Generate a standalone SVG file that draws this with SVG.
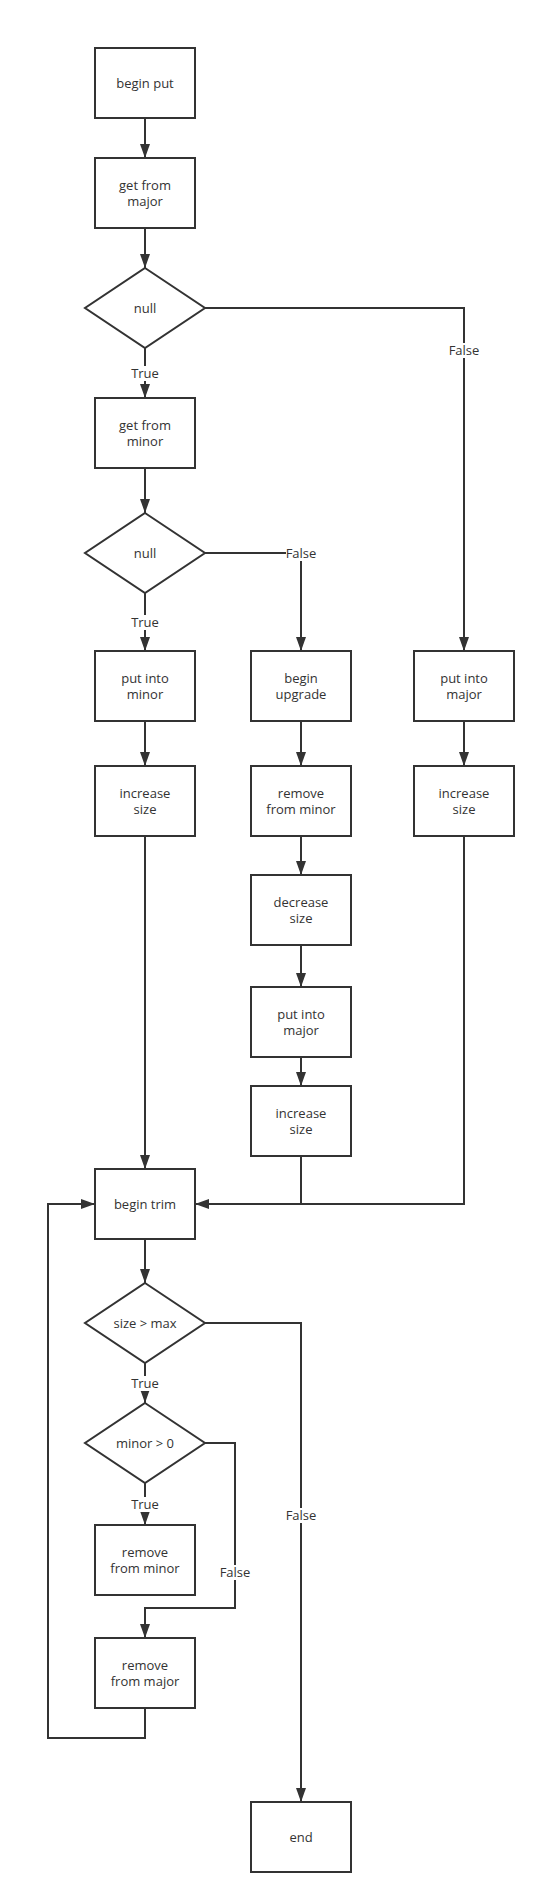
<svg xmlns="http://www.w3.org/2000/svg" width="546" height="1904" viewBox="0 0 546 1904">
<style>
.n{fill:#ffffff;stroke:#333333;stroke-width:2}
.t{font-family:"Open Sans","Noto Sans","Liberation Sans",sans-serif;font-size:13px;fill:#333333;text-anchor:middle}
.c{fill:none;stroke:#333333;stroke-width:2}
.lb{fill:#ffffff;stroke:none}
</style>
<defs>
<marker id="ah" markerUnits="userSpaceOnUse" markerWidth="14" markerHeight="10" refX="14" refY="5" orient="auto">
<path d="M0,0 L14,5 L0,10 z" fill="#333333"/>
</marker>
</defs>
<rect width="546" height="1904" fill="#ffffff"/>
<g id="connectors">
<path class="c" d="M145,118 V158" marker-end="url(#ah)"/>
<path class="c" d="M145,228 V268" marker-end="url(#ah)"/>
<path class="c" d="M145,348 V398" marker-end="url(#ah)"/>
<path class="c" d="M205,308 H464 V651" marker-end="url(#ah)"/>
<path class="c" d="M145,468 V513" marker-end="url(#ah)"/>
<path class="c" d="M145,593 V651" marker-end="url(#ah)"/>
<path class="c" d="M205,553 H301 V651" marker-end="url(#ah)"/>
<path class="c" d="M145,721 V766" marker-end="url(#ah)"/>
<path class="c" d="M301,721 V766" marker-end="url(#ah)"/>
<path class="c" d="M464,721 V766" marker-end="url(#ah)"/>
<path class="c" d="M301,836 V875" marker-end="url(#ah)"/>
<path class="c" d="M301,945 V987" marker-end="url(#ah)"/>
<path class="c" d="M301,1057 V1086" marker-end="url(#ah)"/>
<path class="c" d="M145,836 V1169" marker-end="url(#ah)"/>
<path class="c" d="M301,1156 V1204 H195"/>
<path class="c" d="M464,836 V1204 H195" marker-end="url(#ah)"/>
<path class="c" d="M145,1239 V1283" marker-end="url(#ah)"/>
<path class="c" d="M145,1363 V1403" marker-end="url(#ah)"/>
<path class="c" d="M205,1323 H301 V1802" marker-end="url(#ah)"/>
<path class="c" d="M145,1483 V1525" marker-end="url(#ah)"/>
<path class="c" d="M205,1443 H235 V1608 H145 V1638" marker-end="url(#ah)"/>
<path class="c" d="M145,1708 V1738 H48 V1204 H95" marker-end="url(#ah)"/>
<g id="labels">
<rect class="lb" x="131" y="366" width="28" height="15"/><text class="t" x="145" y="378">True</text>
<rect class="lb" x="449" y="343" width="30" height="15"/><text class="t" x="464" y="355">False</text>
<rect class="lb" x="286" y="546" width="30" height="15"/><text class="t" x="301" y="558">False</text>
<rect class="lb" x="131" y="615" width="28" height="15"/><text class="t" x="145" y="627">True</text>
<rect class="lb" x="131" y="1376" width="28" height="15"/><text class="t" x="145" y="1388">True</text>
<rect class="lb" x="131" y="1497" width="28" height="15"/><text class="t" x="145" y="1509">True</text>
<rect class="lb" x="286" y="1508" width="30" height="15"/><text class="t" x="301" y="1520">False</text>
<rect class="lb" x="220" y="1565" width="30" height="15"/><text class="t" x="235" y="1577">False</text>
</g>
</g>
<g id="begin_put"><rect class="n" x="95" y="48" width="100" height="70"/><text class="t" x="145" y="87.5">begin put</text></g>
<g id="get_from_major"><rect class="n" x="95" y="158" width="100" height="70"/><text class="t" x="145" y="189.5">get from</text><text class="t" x="145" y="205.5">major</text></g>
<g id="null_major"><path class="n" d="M145,268 L205,308 L145,348 L85,308 Z"/><text class="t" x="145" y="312.5">null</text></g>
<g id="get_from_minor"><rect class="n" x="95" y="398" width="100" height="70"/><text class="t" x="145" y="429.5">get from</text><text class="t" x="145" y="445.5">minor</text></g>
<g id="null_minor"><path class="n" d="M145,513 L205,553 L145,593 L85,553 Z"/><text class="t" x="145" y="557.5">null</text></g>
<g id="put_into_minor"><rect class="n" x="95" y="651" width="100" height="70"/><text class="t" x="145" y="682.5">put into</text><text class="t" x="145" y="698.5">minor</text></g>
<g id="begin_upgrade"><rect class="n" x="251" y="651" width="100" height="70"/><text class="t" x="301" y="682.5">begin</text><text class="t" x="301" y="698.5">upgrade</text></g>
<g id="put_into_major_1"><rect class="n" x="414" y="651" width="100" height="70"/><text class="t" x="464" y="682.5">put into</text><text class="t" x="464" y="698.5">major</text></g>
<g id="increase_size_1"><rect class="n" x="95" y="766" width="100" height="70"/><text class="t" x="145" y="797.5">increase</text><text class="t" x="145" y="813.5">size</text></g>
<g id="remove_from_minor_1"><rect class="n" x="251" y="766" width="100" height="70"/><text class="t" x="301" y="797.5">remove</text><text class="t" x="301" y="813.5">from minor</text></g>
<g id="increase_size_3"><rect class="n" x="414" y="766" width="100" height="70"/><text class="t" x="464" y="797.5">increase</text><text class="t" x="464" y="813.5">size</text></g>
<g id="decrease_size"><rect class="n" x="251" y="875" width="100" height="70"/><text class="t" x="301" y="906.5">decrease</text><text class="t" x="301" y="922.5">size</text></g>
<g id="put_into_major_2"><rect class="n" x="251" y="987" width="100" height="70"/><text class="t" x="301" y="1018.5">put into</text><text class="t" x="301" y="1034.5">major</text></g>
<g id="increase_size_2"><rect class="n" x="251" y="1086" width="100" height="70"/><text class="t" x="301" y="1117.5">increase</text><text class="t" x="301" y="1133.5">size</text></g>
<g id="begin_trim"><rect class="n" x="95" y="1169" width="100" height="70"/><text class="t" x="145" y="1208.5">begin trim</text></g>
<g id="size_gt_max"><path class="n" d="M145,1283 L205,1323 L145,1363 L85,1323 Z"/><text class="t" x="145" y="1327.5">size &gt; max</text></g>
<g id="minor_gt_0"><path class="n" d="M145,1403 L205,1443 L145,1483 L85,1443 Z"/><text class="t" x="145" y="1447.5">minor &gt; 0</text></g>
<g id="remove_from_minor_2"><rect class="n" x="95" y="1525" width="100" height="70"/><text class="t" x="145" y="1556.5">remove</text><text class="t" x="145" y="1572.5">from minor</text></g>
<g id="remove_from_major"><rect class="n" x="95" y="1638" width="100" height="70"/><text class="t" x="145" y="1669.5">remove</text><text class="t" x="145" y="1685.5">from major</text></g>
<g id="end"><rect class="n" x="251" y="1802" width="100" height="70"/><text class="t" x="301" y="1841.5">end</text></g>
</svg>
